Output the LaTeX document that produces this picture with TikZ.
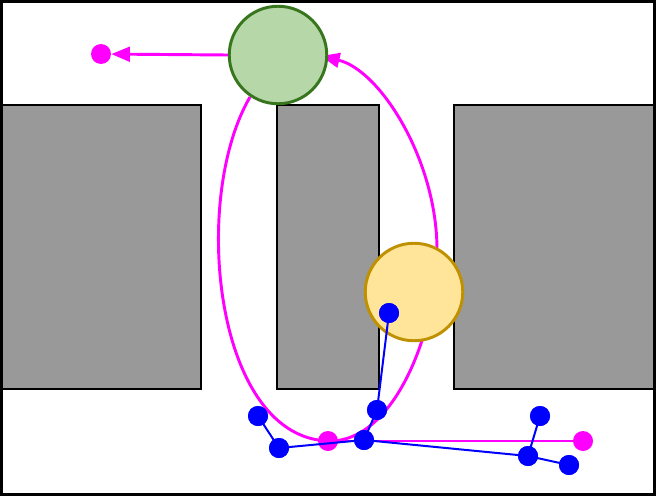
\documentclass[tikz,border=0pt]{standalone}
\usetikzlibrary{arrows.meta}
\definecolor{grayfill}{HTML}{999999}
\definecolor{gfill}{HTML}{B6D7A8}
\definecolor{gdraw}{HTML}{38761D}
\definecolor{yfill}{HTML}{FFE599}
\definecolor{ydraw}{HTML}{BF9000}
\definecolor{mag}{HTML}{FF00FF}
\definecolor{blu}{HTML}{0000FF}
\begin{document}
\begin{tikzpicture}[x=0.75pt,y=-0.75pt,
  wall/.style={fill=grayfill,draw=black,line width=2.2pt},
  bigcirc/.style={circle,minimum size=97.5*0.75pt,inner sep=0pt,line width=2.2pt},
  mdot/.style={circle,fill=mag,minimum size=15pt,inner sep=0pt},
  bdot/.style={circle,fill=blu,minimum size=15pt,inner sep=0pt},
  mline/.style={draw=mag,line width=2.2pt},
  bline/.style={draw=blu,line width=1.5pt},
  tip/.style={-{Triangle[length=14pt,width=11pt]}}]
\useasboundingbox (0,0) rectangle (656,496);
\fill[white] (0,0) rectangle (656,496);
% walls
\draw[wall] (0,105) rectangle (201,389);
\draw[wall] (277,105) rectangle (379,389);
\draw[wall] (454,105) rectangle (656,389);
\coordinate (gc) at (278,55);
\coordinate (yc) at (414,292);
\coordinate (cs) at (250,97);
\coordinate (ce) at (321,56);
% magenta curve
\draw[mline,tip] (cs) .. controls (190,200) and (215,440) .. (330,441)
  .. controls (395,441) and (437,330) .. (437,250)
  .. controls (437,160) and (380,70) .. (ce);
% nodes
\node[bigcirc,fill=gfill,draw=gdraw] (g) at (gc) {};
\node[bigcirc,fill=yfill,draw=ydraw] (y) at (yc) {};
\node[mdot] (m1) at (101,54) {};
\node[mdot] (m2) at (328,441) {};
\node[mdot] (m3) at (583,441) {};
\draw[mline,tip] (g.west) -- (m1);
\draw[mline] (m2) -- (m3);
% blue graph
\node[bdot] (b1) at (258,416) {};
\node[bdot] (b2) at (279,448) {};
\node[bdot] (b3) at (364,440) {};
\node[bdot] (b4) at (377,410) {};
\node[bdot] (b5) at (389,313) {};
\node[bdot] (b6) at (540,416) {};
\node[bdot] (b7) at (528,456) {};
\node[bdot] (b8) at (569,465) {};
\draw[bline] (b1.center) -- (b2.center) -- (b3.center) -- (b4.center) -- (b5.center);
\draw[bline] (b3.center) -- (b7.center) -- (b6.center);
\draw[bline] (b7.center) -- (b8.center);
\foreach \b in {b1,b2,b3,b4,b5,b6,b7,b8} \fill[blu] (\b) circle (10);
% outer frame
\draw[line width=2.2pt] (1.5,1.5) rectangle (654.5,494.5);
\end{tikzpicture}
\end{document}
